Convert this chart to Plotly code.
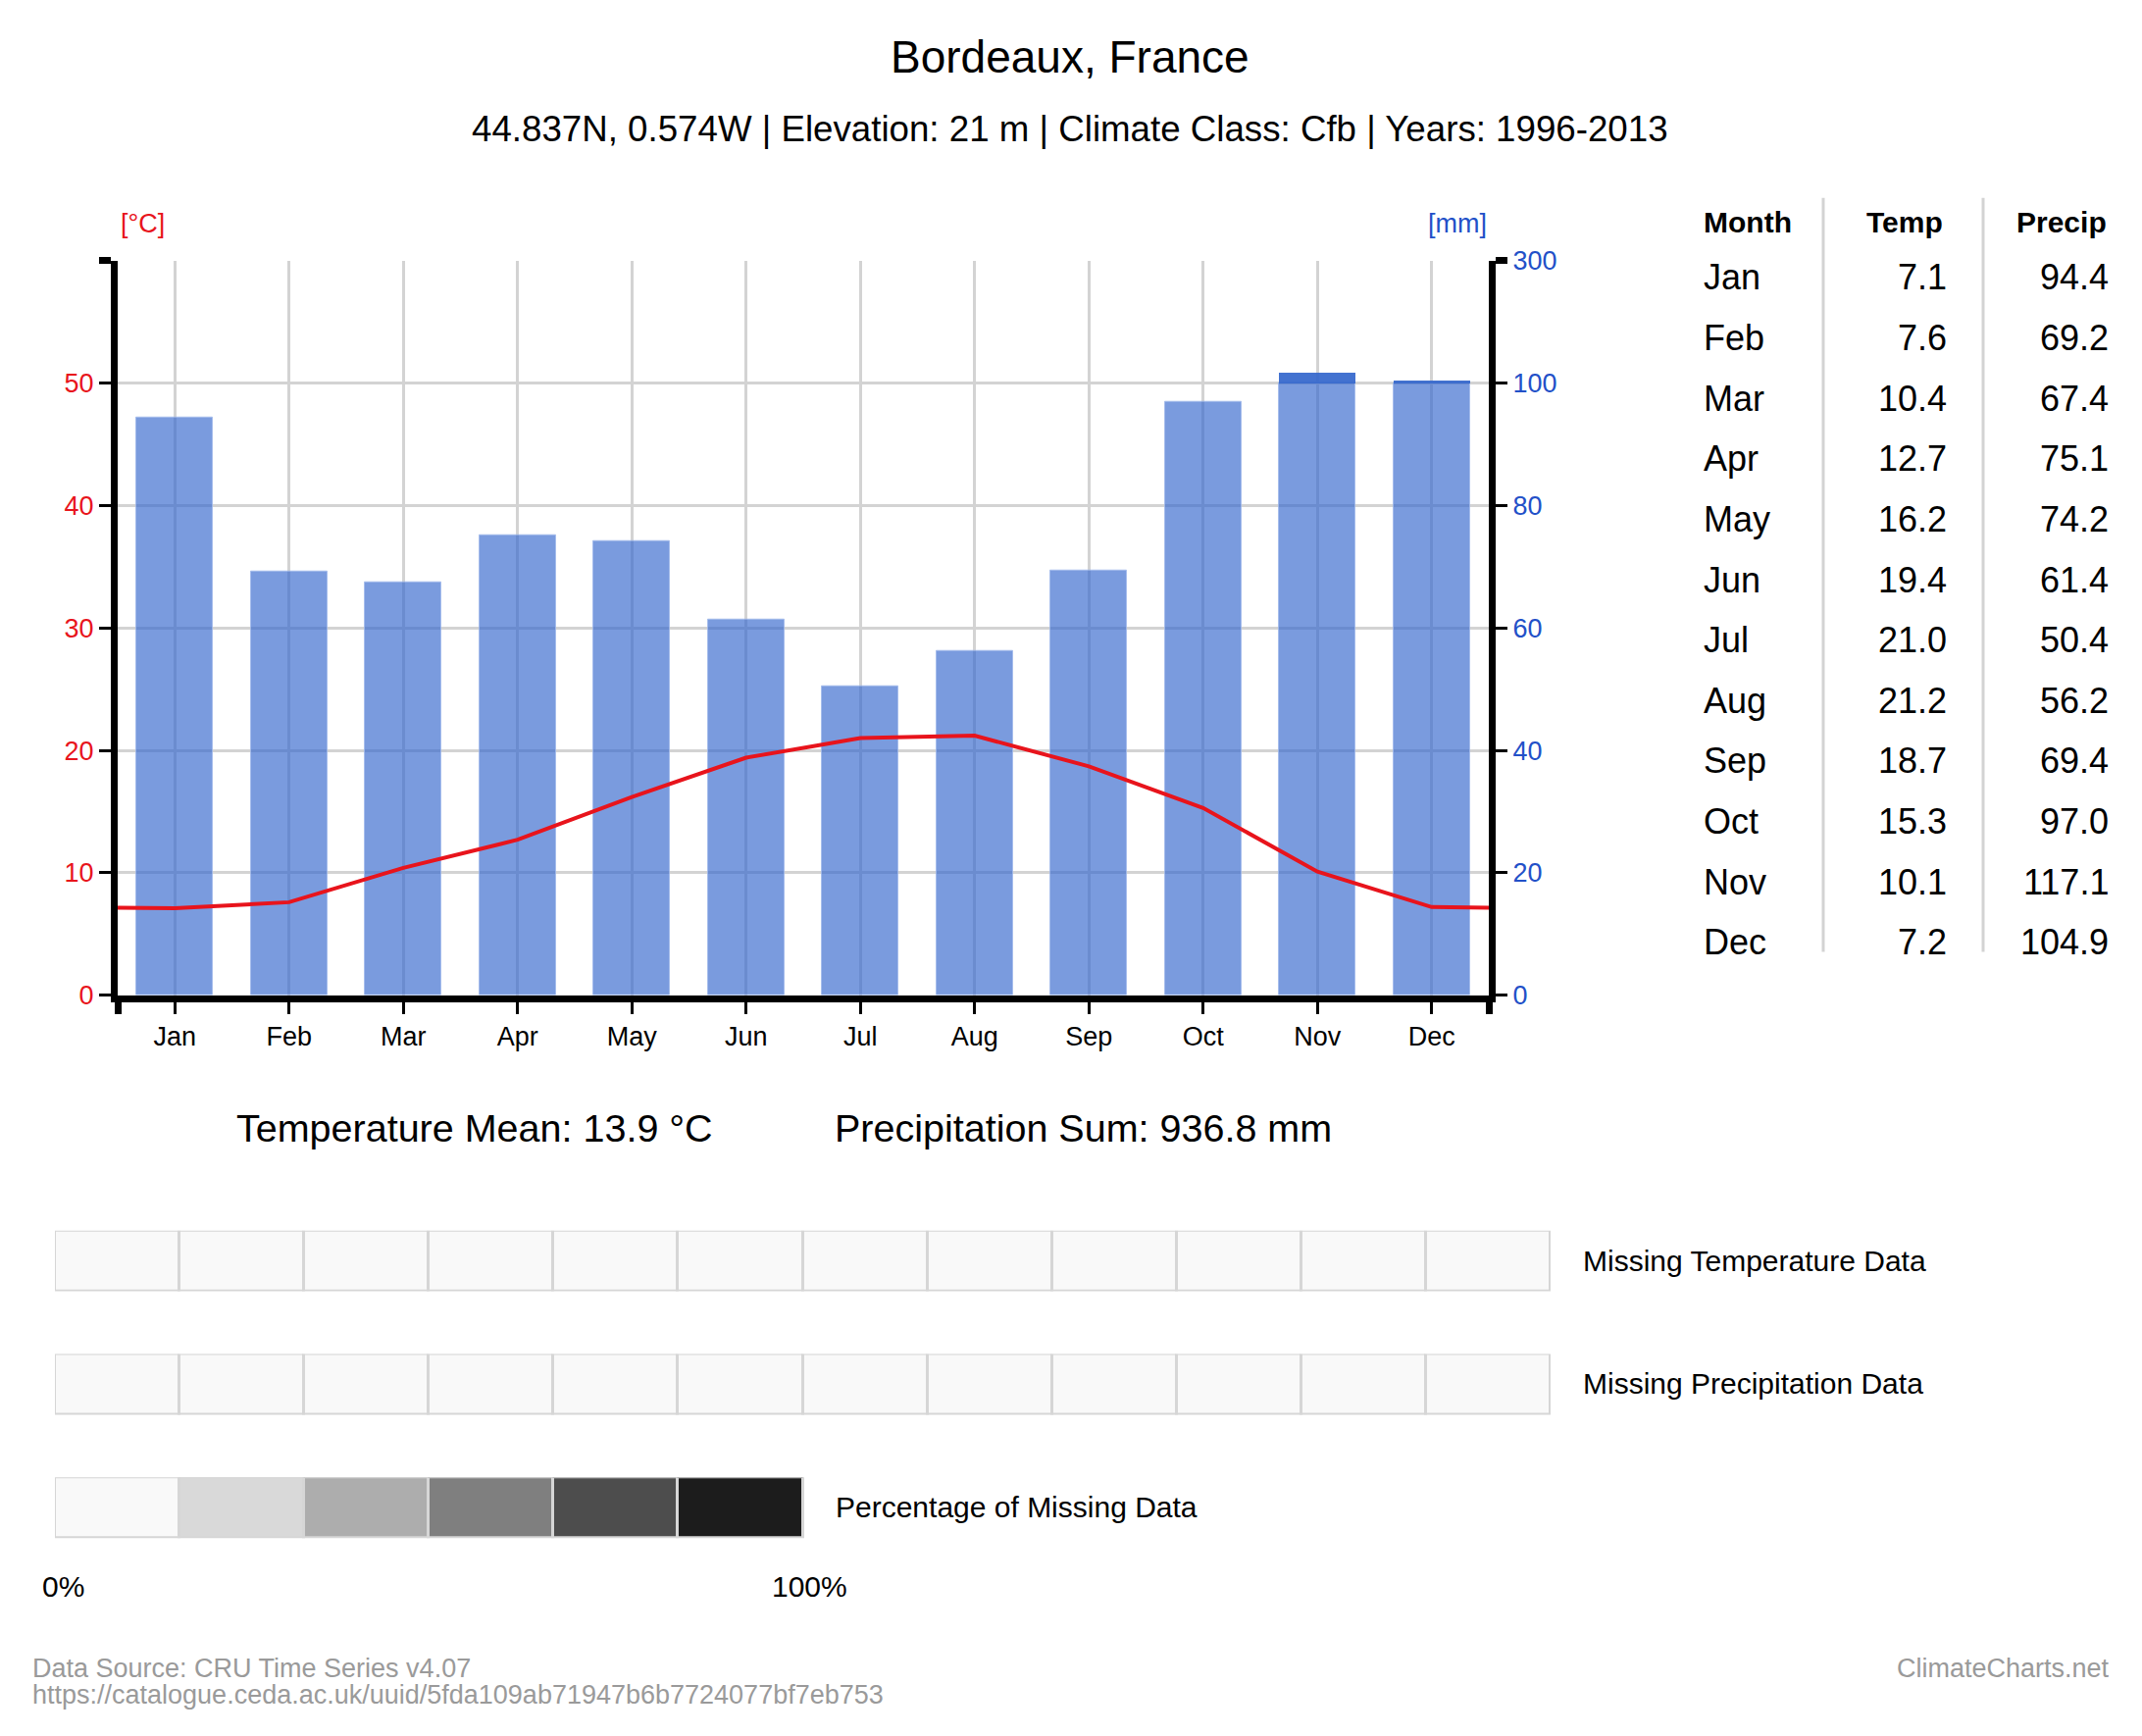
import plotly.graph_objects as go

W, H = 2184, 1770
FONT = "Liberation Sans, Arial, sans-serif"

months = ["Jan", "Feb", "Mar", "Apr", "May", "Jun", "Jul", "Aug", "Sep", "Oct", "Nov", "Dec"]
temp = [7.1, 7.6, 10.4, 12.7, 16.2, 19.4, 21.0, 21.2, 18.7, 15.3, 10.1, 7.2]
precip = [94.4, 69.2, 67.4, 75.1, 74.2, 61.4, 50.4, 56.2, 69.4, 97.0, 117.1, 104.9]

missing_temp = [0, 0, 0, 0, 0, 0, 0, 0, 0, 0, 0, 0]
missing_precip = [0, 0, 0, 0, 0, 0, 0, 0, 0, 0, 0, 0]
legend_levels = [0, 20, 40, 60, 80, 100]
legend_colors = ["#f9f9f9", "#d9d9d9", "#adadad", "#7f7f7f", "#4d4d4d", "#1c1c1c"]

temp_ticks = [0, 10, 20, 30, 40, 50, 60]
temp_ticktext = ["0", "10", "20", "30", "40", "50", ""]
precip_ticks = [0, 20, 40, 60, 80, 100, 120]
precip_ticktext = ["0", "20", "40", "60", "80", "100", "300"]

title = "Bordeaux, France"
subtitle = "44.837N, 0.574W | Elevation: 21 m | Climate Class: Cfb | Years: 1996-2013"
precip_sum_label = "936.8"
temp_mean = sum(temp) / len(temp)


def fx(px):
    return px / W


def fy(py):
    return 1 - py / H


x_idx = list(range(len(months)))
# above 100 mm the precipitation scale is compressed by 10
precip_base = [min(p, 100) for p in precip]
precip_extra = [max(p - 100, 0) / 10 for p in precip]
edge = (temp[0] + temp[-1]) / 2
line_x = [-0.5] + x_idx + [len(months) - 0.5]
line_y = [edge] + temp + [edge]

scale = [[l / 100, c] for l, c in zip(legend_levels, legend_colors)]

fig = go.Figure()
# invisible trace so the left temperature axis gets drawn
fig.add_trace(go.Scatter(x=line_x, y=line_y, mode="lines", line=dict(width=0),
                         opacity=0, hoverinfo="skip"))
fig.add_trace(go.Bar(x=x_idx, y=precip_base, width=0.667, yaxis="y2",
                     marker=dict(color="rgba(51,102,204,0.65)",
                                 line=dict(color="rgba(160,185,235,0.8)", width=1)),
                     hoverinfo="skip"))
fig.add_trace(go.Bar(x=x_idx, y=precip_extra, base=precip_base, width=0.667, yaxis="y2",
                     marker=dict(color="rgba(51,102,204,0.92)", line=dict(width=0)),
                     hoverinfo="skip"))
fig.add_trace(go.Scatter(x=line_x, y=line_y, yaxis="y3", mode="lines",
                         line=dict(color="#e8141c", width=4), hoverinfo="skip"))

rows = [(missing_temp, "x2", "y4"), (missing_precip, "x3", "y5"), (legend_levels, "x4", "y6")]
for vals, xa, ya in rows:
    fig.add_trace(go.Bar(x=list(range(len(vals))), y=[1] * len(vals), width=1,
                         xaxis=xa, yaxis=ya,
                         marker=dict(color=vals, colorscale=scale, cmin=0, cmax=100,
                                     line=dict(color="#d6d6d6", width=3)),
                         hoverinfo="skip"))

ann = []


def text(x, y, s, size, color="black", xanchor="center"):
    ann.append(dict(x=fx(x), y=fy(y), xref="paper", yref="paper", text=s, showarrow=False,
                    xanchor=xanchor, yanchor="middle",
                    font=dict(family=FONT, size=size, color=color)))


text(1091, 44, title, 46)
text(1091, 119, subtitle, 36.7)
text(121, 217, "[°C]", 27, "#e8141c", "left")
text(1518, 217, "[mm]", 27, "#2250c8", "right")

text(1735, 215, "<b>Month</b>", 30, xanchor="left")
text(1942, 215, "<b>Temp</b>", 30)
text(2102, 215, "<b>Precip</b>", 30)
for i, m in enumerate(months):
    y = 272.5 + 62.7 * i
    text(1735, y, m, 36, xanchor="left")
    text(1987, y, f"{temp[i]:.1f}", 36, xanchor="right")
    text(2152, y, f"{precip[i]:.1f}", 36, xanchor="right")

text(484, 1155, f"Temperature Mean: {temp_mean:.1f} °C", 39.5)
text(1104, 1155, f"Precipitation Sum: {precip_sum_label} mm", 39.5)

text(1612, 1292, "Missing Temperature Data", 30, xanchor="left")
text(1612, 1420, "Missing Precipitation Data", 30, xanchor="left")
text(850, 1548, "Percentage of Missing Data", 30, xanchor="left")
text(64, 1630, "0%", 30)
text(825, 1630, "100%", 30)

text(31, 1715, "Data Source: CRU Time Series v4.07", 27, "#9a9a9a", "left")
text(31, 1743, "https://catalogue.ceda.ac.uk/uuid/5fda109ab71947b6b7724077bf7eb753", 27, "#9a9a9a", "left")
text(2153, 1715, "ClimateCharts.net", 27, "#9a9a9a", "right")

shapes = []
for sx in [1859, 2022]:
    shapes.append(dict(type="line", xref="paper", yref="paper", x0=fx(sx), x1=fx(sx),
                       y0=fy(190), y1=fy(972), line=dict(color="#d3d3d3", width=3)))

main_x = [fx(120), fx(1518)]
main_y = [fy(1017), fy(255)]
cell_x = [fx(56), fx(1581)]
hidden = dict(visible=False, fixedrange=True)
axis_style = dict(zeroline=False, showline=True, linecolor="black", linewidth=7,
                  ticks="outside", ticklen=12, tickwidth=3, tickcolor="black")

fig.update_layout(
    width=W, height=H, autosize=False,
    margin=dict(l=0, r=0, t=0, b=0),
    paper_bgcolor="white", plot_bgcolor="white",
    showlegend=False, barmode="overlay", bargap=0,
    font=dict(family=FONT, color="black"),
    annotations=ann, shapes=shapes,
    xaxis=dict(domain=main_x, range=[-0.5, 11.5], tickvals=x_idx, ticktext=months,
               showgrid=True, gridcolor="#d3d3d3", gridwidth=3,
               minor=dict(tickmode="array", tickvals=[-0.5, 11.5], ticks="outside",
                          ticklen=12, tickwidth=7, tickcolor="black", showgrid=False),
               tickfont=dict(size=27, color="black"), anchor="y", **axis_style),
    yaxis=dict(domain=main_y, range=[0, 60], tickvals=temp_ticks, ticktext=temp_ticktext,
               showgrid=True, gridcolor="#d3d3d3", gridwidth=3,
               minor=dict(tickmode="array", tickvals=[60], ticks="outside",
                          ticklen=12, tickwidth=7, tickcolor="black", showgrid=False),
               tickfont=dict(size=27, color="#e8141c"), anchor="x", **axis_style),
    yaxis2=dict(overlaying="y", side="right", range=[0, 120],
                tickvals=precip_ticks, ticktext=precip_ticktext, showgrid=False,
                minor=dict(tickmode="array", tickvals=[120], ticks="outside",
                           ticklen=12, tickwidth=7, tickcolor="black", showgrid=False),
                tickfont=dict(size=27, color="#2250c8"), anchor="x", **axis_style),
    yaxis3=dict(overlaying="y", range=[0, 60], visible=False, anchor="x"),
    xaxis2=dict(domain=cell_x, range=[-0.5, 11.5], anchor="y4", **hidden),
    yaxis4=dict(domain=[fy(1324), fy(1261)], range=[0, 1], anchor="x2", **hidden),
    xaxis3=dict(domain=cell_x, range=[-0.5, 11.5], anchor="y5", **hidden),
    yaxis5=dict(domain=[fy(1452), fy(1389)], range=[0, 1], anchor="x3", **hidden),
    xaxis4=dict(domain=cell_x, range=[-0.5, 11.5], anchor="y6", **hidden),
    yaxis6=dict(domain=[fy(1580), fy(1517)], range=[0, 1], anchor="x4", **hidden),
)

# drop the default page margin so the figure sits at the window's top-left corner
fig.write_html("out.html", config={"displayModeBar": False},
               post_script="document.body.style.margin = '0';")
